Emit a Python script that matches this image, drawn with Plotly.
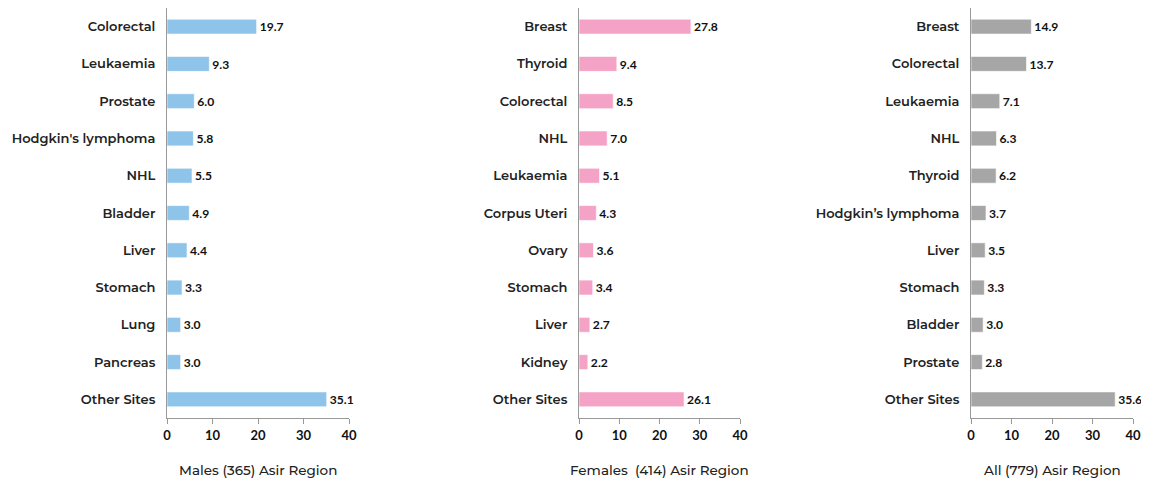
import plotly.graph_objects as go

# data
male_sites = ["Colorectal", "Leukaemia", "Prostate", "Hodgkin's lymphoma", "NHL", "Bladder",
              "Liver", "Stomach", "Lung", "Pancreas", "Other Sites"]
male_vals = [19.7, 9.3, 6.0, 5.8, 5.5, 4.9, 4.4, 3.3, 3.0, 3.0, 35.1]

female_sites = ["Breast", "Thyroid", "Colorectal", "NHL", "Leukaemia", "Corpus Uteri",
                "Ovary", "Stomach", "Liver", "Kidney", "Other Sites"]
female_vals = [27.8, 9.4, 8.5, 7.0, 5.1, 4.3, 3.6, 3.4, 2.7, 2.2, 26.1]

all_sites = ["Breast", "Colorectal", "Leukaemia", "NHL", "Thyroid", "Hodgkin\u2019s lymphoma",
             "Liver", "Stomach", "Bladder", "Prostate", "Other Sites"]
all_vals = [14.9, 13.7, 7.1, 6.3, 6.2, 3.7, 3.5, 3.3, 3.0, 2.8, 35.6]

titles = ["Males (365) Asir Region", "Females  (414) Asir Region", "All (779) Asir Region"]
x_ticks = [0, 10, 20, 30, 40]

# page body has an 8px margin, so the figure is shifted by that much
OFF = 8
W, H = 1149 - OFF, 480 - OFF
panels = [
    (male_sites, male_vals, "#8EC4EA", 167, 349),
    (female_sites, female_vals, "#F4A2C6", 579, 740),
    (all_sites, all_vals, "#A6A6A6", 971, 1133),
]

label_font = dict(family="Montserrat, Noto Sans, sans-serif", size=13, color="#222222", weight=600)
num_font = dict(family="Lato, Liberation Sans, sans-serif", size=13, color="#111111", weight="bold")

fig = go.Figure()
ydom = [1 - (418 - OFF) / H, 1.0]

for i, (sites, vals, col, x0, x1) in enumerate(panels):
    n = "" if i == 0 else str(i + 1)
    fig.add_trace(go.Bar(
        x=vals, y=sites, orientation="h", width=0.4,
        marker=dict(color=col, line=dict(color="rgba(255,255,255,0.6)", width=1)),
        text=[f"{v:.1f}" for v in vals], textposition="outside",
        textfont=num_font, cliponaxis=False,
        xaxis="x" + n, yaxis="y" + n, showlegend=False, hoverinfo="x+y",
    ))
    fig.layout["xaxis" + n] = dict(
        domain=[(x0 - OFF) / W, (x1 - OFF) / W], anchor="y" + n, range=[0, 40], tickvals=x_ticks,
        showgrid=False, zeroline=False, showline=True, linecolor="#999999", linewidth=1,
        ticks="outside", ticklen=5, tickcolor="#999999", automargin=False,
        tickfont=dict(family="Lato, Liberation Sans, sans-serif", size=13, color="#111111", weight="bold"),
        fixedrange=True,
    )
    fig.layout["yaxis" + n] = dict(
        domain=ydom, anchor="x" + n, autorange="reversed", categoryorder="array",
        categoryarray=sites, showgrid=False, zeroline=False, showline=True,
        linecolor="#999999", linewidth=1, ticks="", ticklabelstandoff=8,
        tickfont=label_font, fixedrange=True, automargin=False,
    )
    fig.add_annotation(
        x=((x0 + x1) / 2 - OFF) / W, y=1 - (470 - OFF) / H, xref="paper", yref="paper",
        xanchor="center", yanchor="middle",
        text=titles[i], showarrow=False,
        font=dict(family="Montserrat, Noto Sans, sans-serif", size=13.5, color="#222222", weight=500),
    )

fig.update_layout(
    width=W, height=H, margin=dict(l=0, r=0, t=0, b=0, autoexpand=False),
    plot_bgcolor="white", paper_bgcolor="white", bargap=0.6,
)

fig.write_html("out.html")
